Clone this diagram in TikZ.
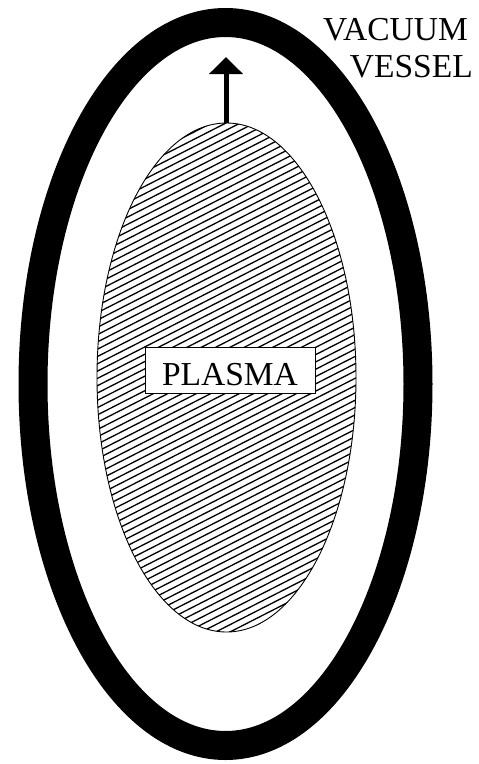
\documentclass[tikz,border=0pt]{standalone}
\usepackage{fontspec}
\setmainfont{Liberation Serif}
\usetikzlibrary{arrows.meta}
\begin{document}
\begin{tikzpicture}[x=1pt,y=-1pt,
  vessel/.style={line width=29pt,draw=black},
  plasmaedge/.style={draw=black,line width=0.9pt},
  hatchline/.style={line width=1.3pt,black},
  labelbox/.style={draw=black,line width=0.8pt,fill=white,minimum width=170pt,minimum height=46pt,inner sep=0pt,text height=30pt,text depth=0pt,font=\fontsize{33.5pt}{37pt}\selectfont},
  vlabel/.style={align=right,inner sep=0pt,font=\fontsize{33.5pt}{37pt}\selectfont},
  motion/.style={line width=5pt,-{Triangle[width=33pt,length=17pt]}}]
\useasboundingbox (0,0) rectangle (479,764);
% vacuum vessel
\draw[vessel] (225.5,384) ellipse [x radius=192.5, y radius=361.5];
% plasma
\coordinate (pc) at (226.5,377.5);
\begin{scope}
  \clip (pc) ellipse [x radius=129.5, y radius=254.5];
  \foreach \i in {0,...,92} {
    \pgfmathsetmacro{\yc}{50+\i*7.3}
    \draw[hatchline] (90,\yc+69.4) -- (362,\yc-69.4);
  }
\end{scope}
\draw[plasmaedge] (pc) ellipse [x radius=129.5, y radius=254.5];
\coordinate (ptop) at (226,123);
\coordinate (atip) at (226,57);
\draw[motion] (ptop) -- (atip);
\node[labelbox] (plasma) at (230,370) {PLASMA};
\node[vlabel,anchor=north east] (vv) at (473,18) {VACUUM\hspace*{5pt}\\VESSEL};
\end{tikzpicture}
\end{document}
